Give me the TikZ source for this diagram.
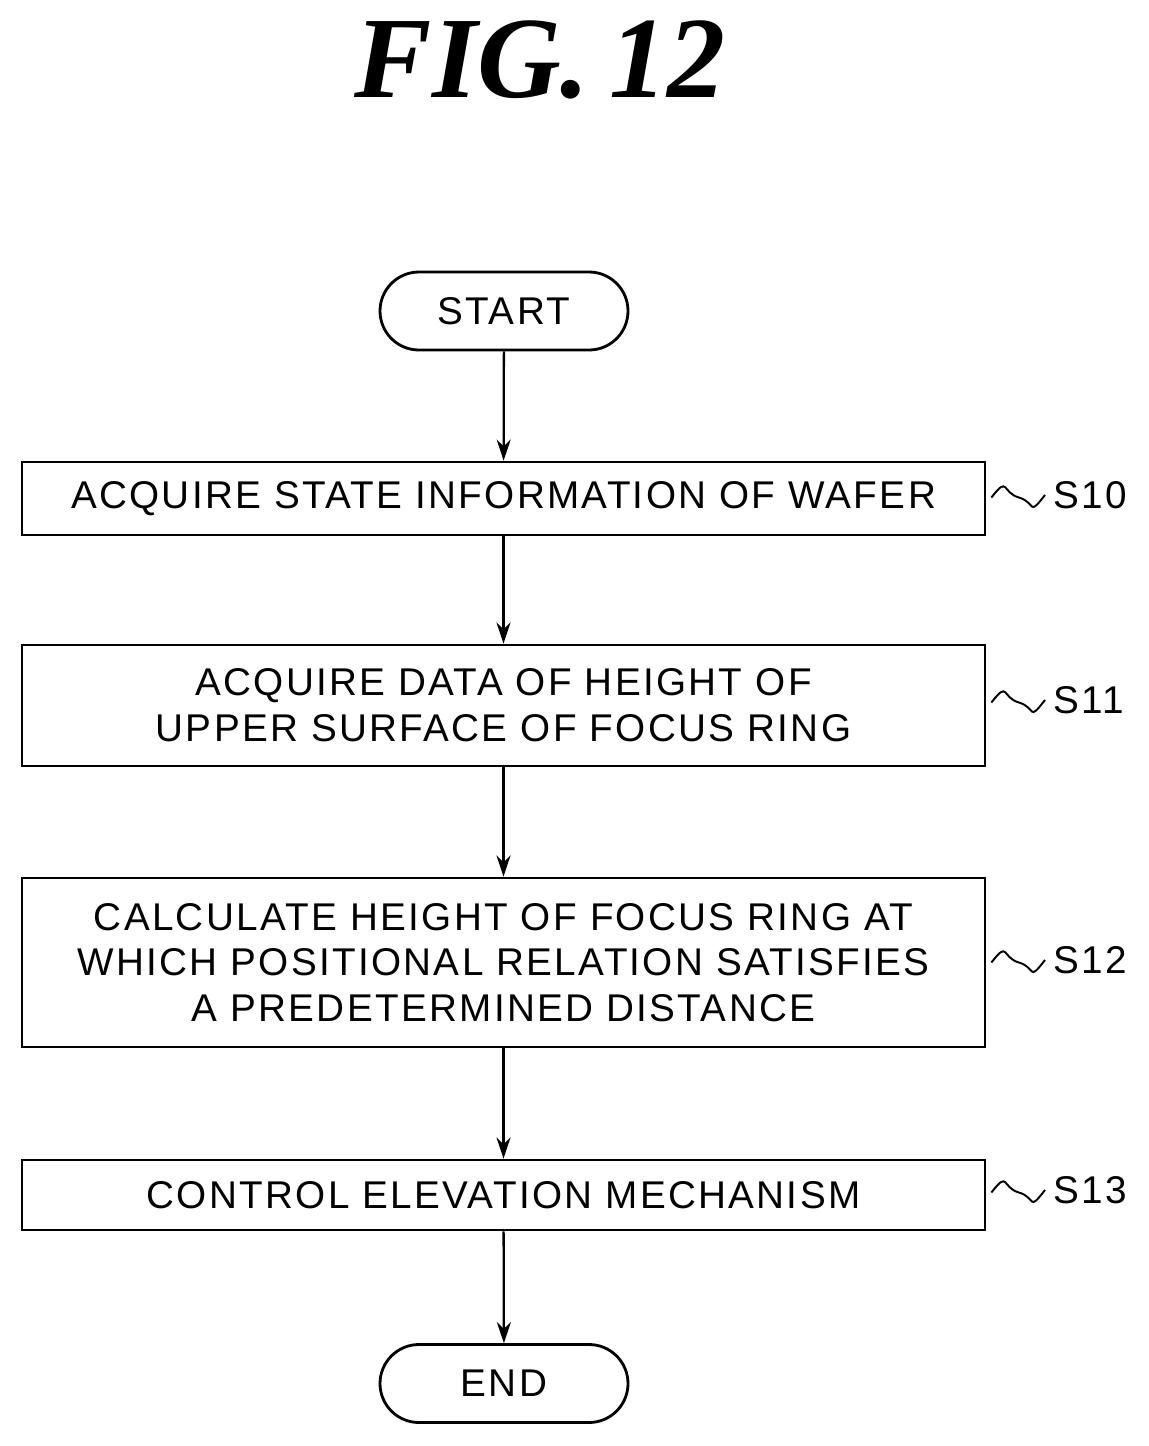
\documentclass[tikz,border=0pt]{standalone}
\usepackage{fontspec}
\setmainfont{Liberation Sans}[LetterSpace=6]
\newfontfamily\titlefont{Liberation Serif}
\usetikzlibrary{positioning,arrows.meta}
\tikzset{
  proc/.style={draw,line width=1.6pt,minimum width=19.26cm,align=center,
    font=\fontsize{22}{26}\selectfont,inner sep=0pt},
  term/.style={draw,line width=1.6pt,rounded corners=0.78cm,minimum width=4.96cm,
    minimum height=1.56cm,font=\fontsize{22}{26}\selectfont},
  flow/.style={line width=1.3pt,-{Stealth[length=12pt,width=8pt]}},
  tag/.style={font=\fontsize{22}{26}\selectfont}
}
\begin{document}
\begin{tikzpicture}
  \useasboundingbox (0,0) rectangle (22.98,-28.92);
  \node (title) at (10.8,-1.2) {\titlefont\fontsize{66}{72}\selectfont\bfseries\itshape FIG.\,12};
  \node[term] (start) at (10.08,-6.22) {START};
  \node[proc,minimum height=1.46cm] (s10) at (10.07,-9.97) {ACQUIRE STATE INFORMATION OF WAFER};
  \node[proc,minimum height=2.42cm] (s11) at (10.07,-14.11) {ACQUIRE DATA OF HEIGHT OF\\UPPER SURFACE OF FOCUS RING};
  \node[proc,minimum height=3.38cm] (s12) at (10.07,-19.25) {CALCULATE HEIGHT OF FOCUS RING AT\\WHICH POSITIONAL RELATION SATISFIES\\A PREDETERMINED DISTANCE};
  \node[proc,minimum height=1.4cm] (s13) at (10.07,-23.9) {CONTROL ELEVATION MECHANISM};
  \node[term] (end) at (10.08,-27.67) {END};
  % step labels
  \foreach \s/\t/\y in {s10/S10/-9.9,s11/S11/-14.0,s12/S12/-19.2,s13/S13/-23.8}{
    \coordinate (w\s) at (20.9,\y);
    \node[tag,anchor=west] (l\s) at (20.95,\y) {\t};
    \draw[line width=1.1pt] (s10.east |- w\s) ++(0.1,-0.05) .. controls +(0.35,0.45) and +(-0.35,0.1) .. +(0.55,0)
      .. controls +(0.35,-0.1) and +(-0.35,-0.45) .. (w\s);
  }
  \draw[flow] (start) -- (s10);
  \draw[flow] (s10) -- (s11);
  \draw[flow] (s11) -- (s12);
  \draw[flow] (s12) -- (s13);
  \draw[flow] (s13) -- (end);
\end{tikzpicture}
\end{document}
